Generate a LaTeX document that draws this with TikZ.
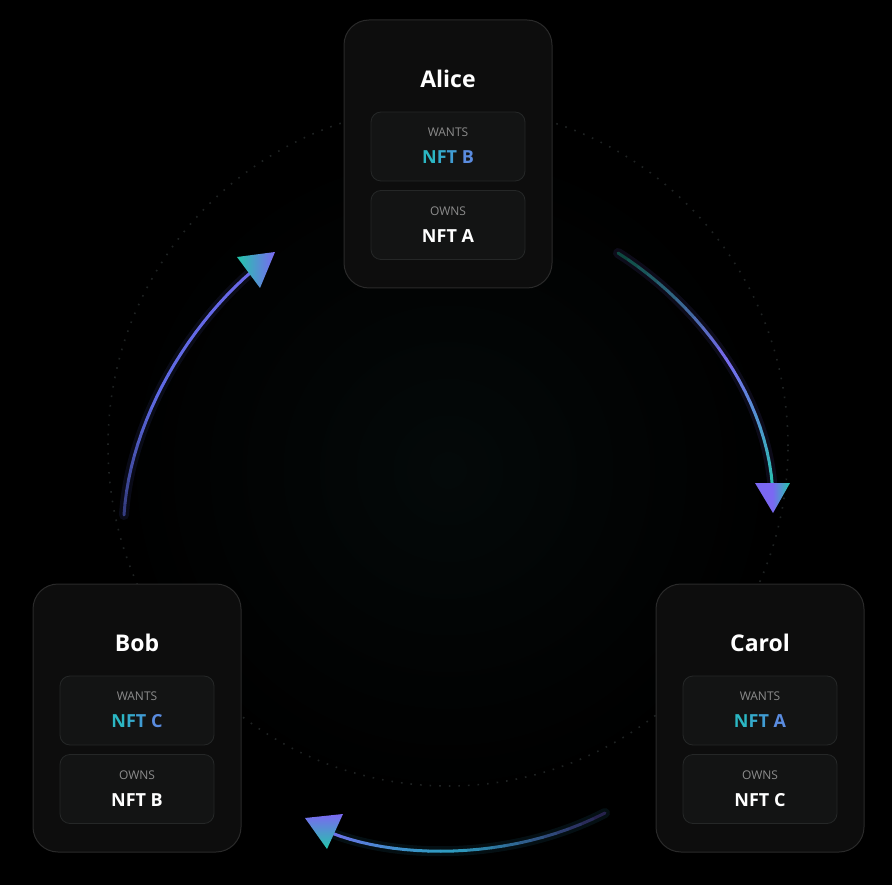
\documentclass[tikz,border=0pt]{standalone}
\usepackage{fontspec}
\setmainfont{Open Sans}
\definecolor{cardfill}{HTML}{0D0D0D}
\definecolor{cardline}{HTML}{2A2A2A}
\definecolor{boxfill}{HTML}{131414}
\definecolor{boxline}{HTML}{252727}
\definecolor{lbl}{HTML}{8C8C8C}
\definecolor{vio}{HTML}{7B68F2}
\definecolor{tea}{HTML}{22C7A9}
\definecolor{blu}{HTML}{5B6AE2}
\definecolor{cyb}{HTML}{2F9BC0}
\definecolor{dotc}{HTML}{1F2323}
\definecolor{gA}{HTML}{2BB7C3}
\definecolor{gB}{HTML}{35AACB}
\definecolor{gC}{HTML}{409CD3}
\definecolor{gD}{HTML}{5A8CE0}
\definecolor{glowc}{HTML}{040909}
\tikzset{
  card/.style={draw=cardline, fill=cardfill, line width=1pt, rounded corners=25pt,
    minimum width=208pt, minimum height=268pt, inner sep=0pt},
  slot/.style={draw=boxline, fill=boxfill, line width=0.8pt, rounded corners=10pt,
    minimum width=154pt, minimum height=69pt, inner sep=0pt},
  ttl/.style={text=white, inner sep=0pt, font=\bfseries\fontsize{23}{27}\selectfont},
  lab/.style={text=lbl, inner sep=0pt, font=\fontsize{12}{14}\selectfont},
  val/.style={text=white, inner sep=0pt, font=\bfseries\fontsize{18}{21}\selectfont},
  arcline/.style={line width=3pt, line cap=round},
  arcglow/.style={line width=10pt, line cap=round, opacity=0.10},
}
\newcommand\gradtxt[2]{{\color{gA}N\color{gB}F\color{gC}T\color{gD}~#2}}
\newcommand\mycard[6]{%
  \node[card] (#1) at (#2,{#3+134}) {};
  \node[ttl] (#1t) at (#2,{#3+59}) {#4};
  \node[slot] (#1w) at (#2,{#3+126.5}) {};
  \node[lab] (#1wl) at (#2,{#3+112}) {WANTS};
  \node[val] (#1wv) at (#2,{#3+137}) {\gradtxt{}{#5}};
  \node[slot] (#1o) at (#2,{#3+205}) {};
  \node[lab] (#1ol) at (#2,{#3+191}) {OWNS};
  \node[val] (#1ov) at (#2,{#3+216}) {#6};
}
\begin{document}
\begin{tikzpicture}[x=1pt,y=-1pt]
\fill[black] (0,0) rectangle (892,885);
\useasboundingbox (0,0) rectangle (892,885);
\shade[inner color=glowc, outer color=black] (448,470) circle[radius=330pt];
% dotted orbit
\draw[dotc, line width=1.6pt, dash pattern=on 1.6pt off 8pt] (448,446) circle[radius=340pt];

% ---- arc Alice -> Carol
\coordinate (ac0) at (618,253);
\coordinate (ac1) at (700,305);
\coordinate (ac2) at (772,400);
\coordinate (ac3) at (773,500);
\draw[arcglow, color=vio] (ac0) .. controls (ac1) and (ac2) .. (ac3);
\path (ac0) .. controls (ac1) and (ac2) .. (ac3)
  \foreach \i in {0,...,24} { coordinate[pos=\i/24] (acp\i) };
\foreach \i in {0,...,23} {
  \pgfmathtruncatemacro\j{\i+1}
  \pgfmathsetmacro\t{(\i+0.5)/24}
  \pgfmathtruncatemacro\m{100*(1-abs(2*\t-1))}
  \pgfmathtruncatemacro\f{min(100,35+130*\t)}
  \draw[arcline, color=vio!\m!tea!\f!black] (acp\i) -- (acp\j);
}
\coordinate (ah1) at (755,483);
\coordinate (ah2) at (790,483);
\coordinate (ah3) at (773,513);
\shade[left color=vio, right color=tea, middle color=vio] (ah1) -- (ah2) -- (ah3) -- cycle;

% ---- arc Bob -> Alice
\coordinate (ba0) at (124,515);
\coordinate (ba1) at (130,420);
\coordinate (ba2) at (190,320);
\coordinate (ba3) at (262,263);
\draw[arcglow, color=blu] (ba0) .. controls (ba1) and (ba2) .. (ba3);
\path (ba0) .. controls (ba1) and (ba2) .. (ba3)
  \foreach \i in {0,...,24} { coordinate[pos=\i/24] (bap\i) };
\foreach \i in {0,...,23} {
  \pgfmathtruncatemacro\j{\i+1}
  \pgfmathsetmacro\t{(\i+0.5)/24}
  \pgfmathtruncatemacro\m{60*\t*\t}
  \pgfmathtruncatemacro\f{min(100,55+110*\t)}
  \draw[arcline, color=vio!\m!blu!\f!black] (bap\i) -- (bap\j);
}
\coordinate (bh1) at (237,257);
\coordinate (bh2) at (275,252);
\coordinate (bh3) at (260,288);
\shade[left color=tea, right color=vio] (bh1) -- (bh2) -- (bh3) -- cycle;

% ---- arc Carol -> Bob
\coordinate (cb0) at (605,813);
\coordinate (cb1) at (510,862);
\coordinate (cb2) at (390,860);
\coordinate (cb3) at (322,829);
\draw[arcglow, color=cyb] (cb0) .. controls (cb1) and (cb2) .. (cb3);
\path (cb0) .. controls (cb1) and (cb2) .. (cb3)
  \foreach \i in {0,...,24} { coordinate[pos=\i/24] (cbp\i) };
\foreach \i in {0,...,23} {
  \pgfmathtruncatemacro\j{\i+1}
  \pgfmathsetmacro\t{(\i+0.5)/24}
  \pgfmathtruncatemacro\m{100*abs(2*\t-1)^1.5}
  \pgfmathtruncatemacro\f{min(100,30+140*\t)}
  \draw[arcline, color=vio!\m!cyb!\f!black] (cbp\i) -- (cbp\j);
}
\coordinate (ch1) at (305,818);
\coordinate (ch2) at (343,814);
\coordinate (ch3) at (327,849);
\shade[top color=vio, bottom color=tea] (ch1) -- (ch2) -- (ch3) -- cycle;

% ---- cards
\mycard{alice}{448}{20}{Alice}{B}{NFT A}
\mycard{bob}{137}{584}{Bob}{C}{NFT B}
\mycard{carol}{760}{584}{Carol}{A}{NFT C}
\end{tikzpicture}
\end{document}
